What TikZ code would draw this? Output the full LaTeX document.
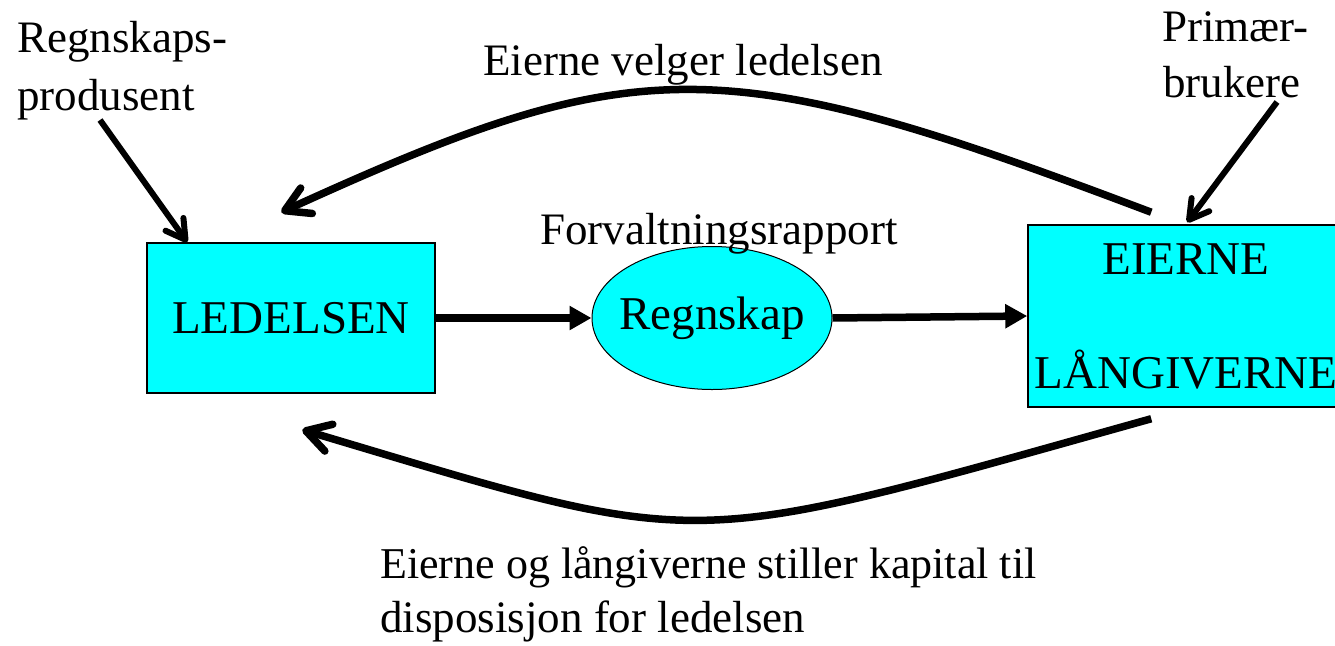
\documentclass[tikz,border=0pt]{standalone}
\usepackage{fontspec}
\setmainfont{Liberation Serif}
\usetikzlibrary{arrows.meta,shapes.geometric,calc}
\definecolor{boxcyan}{RGB}{0,255,255}
\begin{document}
\begin{tikzpicture}[x=1pt,y=-1pt,
  box/.style={draw=black,line width=1.5pt,fill=boxcyan,inner sep=0pt,font=\fontsize{47}{114}\selectfont},
  oval/.style={ellipse,draw=black,line width=1pt,fill=boxcyan,inner sep=0pt,font=\fontsize{47}{56}\selectfont},
  lbl/.style={inner sep=0pt,font=\fontsize{45}{54}\selectfont},
  flowarrow/.style={line width=7.5pt,-{Triangle[length=22pt,width=23pt]}},
  bigcurve/.style={line width=7.5pt,-{Straight Barb[round,length=24pt,width=28pt]}},
  pointer/.style={line width=6pt,-{Straight Barb[round,length=19pt,width=22pt]}}]
\useasboundingbox (0,0) rectangle (1335,645);
% boxes
\node[box,minimum width=288pt,minimum height=150pt] (LED) at (291,318) {LEDELSEN};
\node[oval,minimum width=240pt,minimum height=143pt] (REG) at (712,318) {\makebox[0pt]{Regnskap}};
\node[box,minimum width=316pt,minimum height=182pt,align=center] (EIE) at (1186,316) {EIERNE\\LÅNGIVERNE};
% labels
\node[lbl,anchor=base west] (prod1) at (17,52) {Regnskaps-};
\node[lbl,anchor=base west] (prod2) at (17,110) {produsent};
\node[lbl,anchor=base west] (brk1) at (1162,41) {Primær-};
\node[lbl,anchor=base west] (brk2) at (1163,97) {brukere};
\node[lbl,anchor=base] (velger) at (683,75) {Eierne velger ledelsen};
\node[lbl,anchor=base west] (forv) at (540,244) {Forvaltningsrapport};
\node[lbl,anchor=base west,font=\fontsize{44}{54}\selectfont] (kap1) at (380,578) {Eierne og långiverne stiller kapital til};
\node[lbl,anchor=base west] (kap2) at (380,632) {disposisjon for ledelsen};
% straight flow arrows
\draw[flowarrow] (LED.east) -- (REG.west);
\draw[flowarrow] (REG.east) -- (EIE.west);
% curved arrows
\coordinate (topS) at ($(EIE.north west)+(124,-12)$);
\coordinate (topE) at ($(LED.north west)+(135,-30)$);
\draw[bigcurve] (topS) .. controls (720,49) and (639,49) .. (topE);
\coordinate (botS) at ($(EIE.south west)+(124,11)$);
\coordinate (botE) at ($(LED.south west)+(156,36)$);
\draw[bigcurve] (botS) .. controls (674,552) and (713,552) .. (botE);
% pointer arrows
\coordinate (prodS) at (100,120);
\draw[pointer] (prodS) -- ($(LED.north west)+(41,0)$);
\coordinate (brkS) at (1277,102);
\draw[pointer] (brkS) -- ($(EIE.north west)+(160,-2)$);
\end{tikzpicture}
\end{document}
